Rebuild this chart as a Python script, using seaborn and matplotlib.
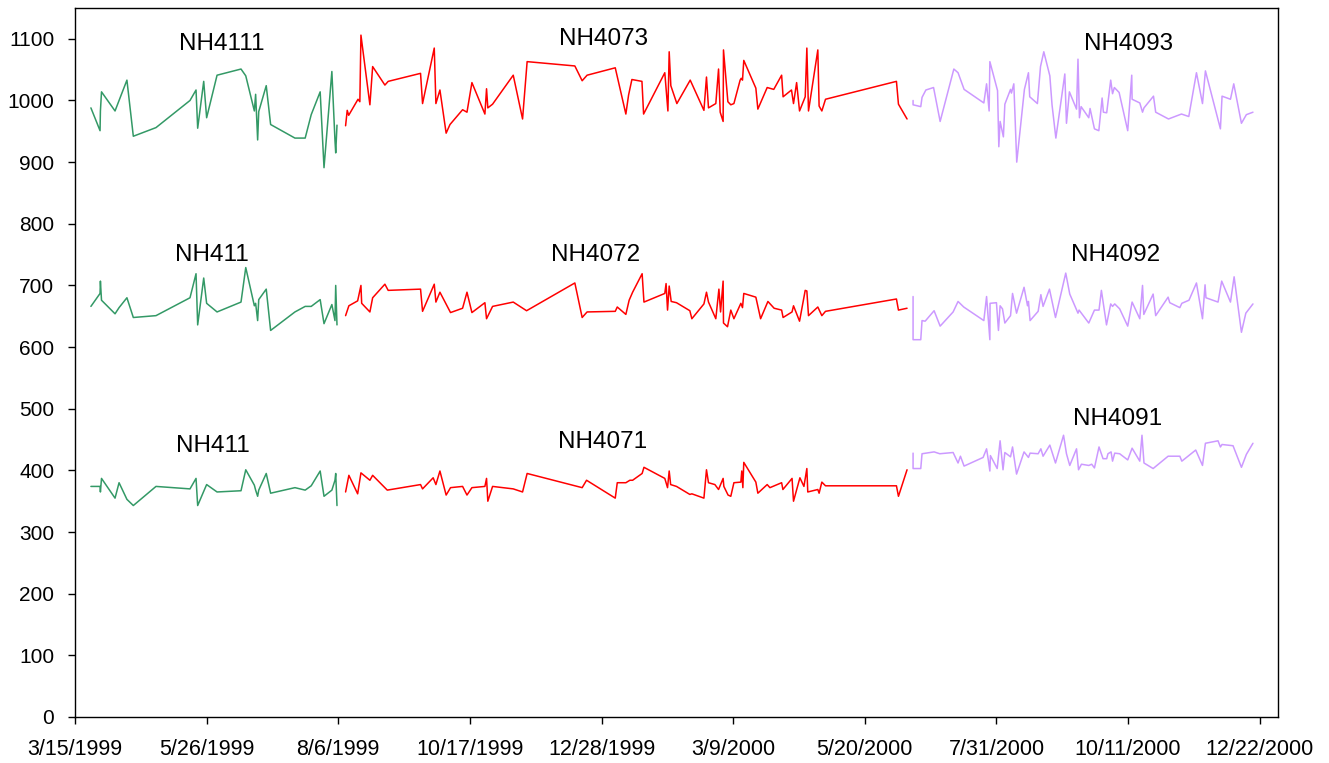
import matplotlib
matplotlib.use("Agg")
import matplotlib.pyplot as plt
import matplotlib.dates as mdates
from matplotlib.ticker import FuncFormatter
import seaborn as sns
import pandas as pd
import numpy as np

# ---------------- data (days since 1999-03-15, values) ----------------
START = "1999-03-15"

green_days = [8.7, 13.7, 13.9, 14.5, 21.9, 24.1, 28.4, 31.9, 44.3, 62.9, 66.2, 67.1,
              70.4, 72.0, 77.7, 90.8, 93.4, 98.1, 98.8, 99.9, 100.5, 104.6, 107.0,
              120.3, 125.9, 129.2, 134.1, 136.2, 140.5, 142.2, 142.6, 143.3]
nh4111 = [988, 951, 983, 1014, 983, 1000, 1033, 942, 956, 1000, 1017, 955, 1031, 972,
          1041, 1051, 1040, 983, 1010, 936, 982, 1024, 961, 939, 939, 977, 1014, 891,
          1047, 935, 915, 960]
nh411_mid = [666, 687, 707, 676, 654, 664, 680, 648, 651, 680, 719, 636, 712, 671, 657,
             673, 729, 667, 671, 643, 677, 694, 627, 657, 666, 666, 677, 638, 669, 643,
             700, 636]
nh411_low = [374, 374, 365, 387, 355, 380, 353, 343, 374, 370, 387, 343, 366, 377, 365,
             367, 401, 376, 368, 358, 368, 395, 363, 372, 368, 375, 399, 358, 368, 384,
             395, 343]

nh4073_days = [148.0, 148.9, 149.7, 154.8, 155.8, 156.4, 161.3, 162.8, 169.5, 171.3,
               189.0, 190.1, 196.5, 197.4, 199.6, 203.0, 205.1, 212.0, 214.4, 217.1,
               224.2, 225.1, 225.8, 228.4, 239.7, 244.8, 247.3, 273.4, 277.4, 280.1,
               295.5, 301.3, 302.8, 304.6, 310.1, 311.0, 322.6, 324.3, 325.0, 325.9,
               329.2, 336.5, 344.0, 345.4, 346.5, 350.5, 352.0, 352.9, 354.5, 354.7,
               357.1, 358.7, 360.4, 363.8, 364.4, 365.1, 365.8, 372.4, 373.5, 378.6,
               382.2, 386.5, 387.3, 391.9, 393.0, 394.7, 396.3, 399.4, 400.3, 401.2,
               406.3, 407.0, 408.5, 410.5, 449.3, 450.4, 455.1]
nh4073 = [959, 984, 976, 1002, 998, 1106, 993, 1055, 1025, 1031, 1044, 995, 1085, 995,
          1017, 947, 961, 985, 981, 1029, 978, 1019, 988, 994, 1041, 970, 1063, 1056,
          1032, 1041, 1053, 978, 1009, 1034, 1031, 978, 1045, 983, 1079, 1024, 995, 1033,
          984, 1038, 988, 995, 1051, 981, 966, 1082, 998, 993, 995, 1033, 1036, 1033,
          1065, 1020, 986, 1021, 1018, 1041, 1006, 1017, 995, 1029, 983, 1006, 1085, 983,
          1082, 991, 983, 1002, 1031, 994, 970]

nh4072_days = [148.0, 149.8, 154.6, 156.4, 156.8, 161.3, 162.8, 169.5, 171.3, 189.0,
               190.1, 196.5, 197.4, 199.6, 205.4, 212.0, 214.4, 217.1, 224.2, 225.1,
               228.4, 239.7, 247.0, 273.4, 277.4, 280.1, 295.5, 296.6, 301.3, 303.1,
               305.0, 310.2, 311.2, 322.6, 323.3, 324.1, 325.0, 326.1, 329.0, 336.3,
               337.4, 344.0, 345.4, 346.5, 350.5, 352.2, 353.1, 354.5, 354.7, 356.9,
               358.7, 360.4, 364.2, 365.1, 365.8, 372.4, 375.0, 379.0, 382.4, 386.5,
               387.3, 392.2, 393.0, 396.3, 399.4, 400.3, 401.2, 406.3, 408.5, 410.5,
               449.3, 450.4, 455.1]
nh4072 = [651, 667, 675, 700, 671, 657, 680, 702, 692, 694, 658, 702, 673, 689, 656, 663,
          689, 656, 672, 646, 666, 673, 659, 704, 648, 657, 658, 665, 653, 676, 689, 719,
          673, 687, 703, 660, 699, 674, 672, 659, 646, 670, 689, 673, 646, 694, 657, 707,
          639, 633, 660, 646, 671, 664, 687, 681, 646, 674, 663, 660, 648, 657, 667, 642,
          692, 691, 651, 665, 651, 658, 678, 660, 663]

nh4071_days = [148.0, 149.8, 154.6, 156.4, 161.3, 162.8, 170.8, 189.0, 190.1, 195.9,
               197.4, 199.6, 203.0, 205.4, 212.0, 214.4, 217.1, 224.2, 225.1, 225.8,
               228.4, 239.7, 244.8, 247.3, 277.4, 279.8, 295.5, 296.6, 301.3, 303.5,
               305.0, 310.2, 311.2, 322.6, 324.1, 325.0, 325.8, 329.0, 336.3, 337.4,
               344.0, 345.4, 346.5, 350.0, 352.0, 354.5, 354.9, 357.2, 358.7, 360.4,
               364.2, 364.7, 365.3, 365.8, 372.4, 373.5, 378.6, 380.1, 386.5, 387.2,
               392.2, 393.0, 396.5, 398.7, 400.3, 400.8, 406.3, 407.0, 408.5, 410.5,
               449.3, 450.4, 455.1]
nh4071 = [365, 392, 362, 396, 384, 392, 368, 377, 370, 388, 377, 399, 360, 372, 374, 360,
          372, 374, 387, 350, 374, 370, 365, 395, 372, 384, 355, 380, 380, 384, 384, 395,
          405, 387, 372, 399, 377, 374, 361, 362, 355, 401, 380, 377, 369, 387, 374, 360,
          358, 380, 381, 399, 372, 413, 381, 363, 377, 372, 380, 369, 387, 350, 388, 374,
          403, 365, 369, 363, 381, 375, 375, 358, 401]

nh4093_days = [458.4, 458.4, 462.6, 463.3, 465.4, 469.6, 473.2, 480.7, 483.0, 486.3,
               497.1, 498.6, 500.0, 500.4, 504.6, 505.3, 506.0, 507.8, 508.6, 511.7,
               512.2, 513.5, 515.1, 519.3, 521.5, 522.2, 526.4, 528.1, 529.9, 533.2,
               534.4, 536.5, 541.4, 542.3, 543.9, 547.8, 548.6, 549.4, 550.3, 554.5,
               555.2, 557.6, 560.0, 561.8, 562.5, 564.3, 566.5, 567.5, 568.5, 571.1,
               575.8, 578.0, 578.2, 582.4, 583.9, 584.7, 589.9, 591.1, 598.1, 605.2,
               609.2, 613.4, 616.7, 618.3, 626.5, 627.4, 632.0, 633.8, 638.0, 640.7, 644.3]
nh4093 = [1000, 993, 990, 1005, 1017, 1021, 966, 1051, 1045, 1018, 996, 1027, 983, 1063,
          1016, 925, 966, 941, 994, 1018, 1012, 1027, 900, 1018, 1045, 1006, 995, 1055,
          1079, 1040, 993, 939, 1043, 963, 1014, 986, 1067, 972, 990, 972, 987, 954, 951,
          1004, 981, 980, 1033, 1011, 1021, 1013, 951, 1041, 1002, 996, 981, 988, 1007,
          981, 970, 978, 974, 1045, 995, 1048, 954, 1007, 1002, 1027, 963, 977, 981]

nh4092_days = [458.4, 458.4, 462.6, 463.3, 465.0, 469.9, 473.2, 480.3, 483.0, 486.1,
               497.1, 498.6, 500.4, 500.5, 504.0, 505.1, 506.0, 507.3, 508.6, 511.7,
               512.8, 515.0, 519.1, 521.0, 521.5, 522.4, 526.8, 528.3, 529.5, 533.0,
               536.3, 541.9, 544.1, 548.6, 549.2, 554.5, 557.6, 560.1, 561.4, 564.2,
               566.5, 567.5, 568.7, 571.4, 575.8, 578.2, 582.4, 583.9, 584.6, 589.7,
               591.1, 597.9, 598.8, 604.3, 605.4, 609.3, 613.4, 616.7, 618.1, 618.6,
               625.2, 627.2, 632.0, 634.0, 638.0, 640.4, 644.3]
nh4092 = [682, 612, 612, 643, 642, 659, 634, 657, 674, 665, 643, 682, 612, 671, 672, 627,
          667, 662, 639, 651, 687, 655, 697, 667, 674, 643, 658, 685, 666, 694, 648, 720,
          686, 655, 660, 639, 660, 660, 692, 636, 670, 666, 670, 662, 634, 673, 646, 700,
          653, 686, 651, 681, 672, 664, 671, 676, 704, 646, 701, 680, 673, 707, 673, 714,
          624, 655, 670]

nh4091_days = [458.4, 458.4, 462.6, 463.3, 469.9, 473.0, 480.3, 483.0, 484.3, 486.3,
               496.7, 498.6, 499.6, 500.4, 500.7, 504.4, 506.0, 507.6, 508.6, 511.7,
               512.8, 515.0, 519.1, 521.5, 522.4, 526.8, 528.3, 529.5, 533.2, 536.3,
               540.7, 542.3, 544.1, 547.8, 548.9, 550.5, 554.5, 556.1, 557.6, 560.1,
               562.3, 564.3, 565.0, 566.7, 567.5, 568.7, 571.4, 575.8, 578.2, 582.4,
               583.6, 584.7, 589.7, 597.9, 604.3, 605.4, 613.0, 616.7, 618.3, 625.2,
               626.5, 627.4, 633.4, 638.0, 640.7, 644.3]
nh4091 = [428, 403, 403, 427, 430, 427, 429, 412, 423, 407, 421, 435, 416, 399, 424, 403,
          448, 401, 429, 422, 438, 394, 430, 421, 428, 427, 435, 423, 441, 412, 457, 427,
          408, 435, 401, 410, 408, 410, 404, 438, 419, 419, 427, 430, 415, 428, 427, 417,
          436, 415, 457, 412, 403, 423, 423, 415, 433, 408, 444, 448, 438, 442, 440, 405,
          426, 444]

label_names = ["NH4111", "NH4073", "NH4093", "NH411", "NH4072", "NH4092",
               "NH411", "NH4071", "NH4091"]
label_days = [80, 289, 576.5, 75, 285, 569, 75.5, 288.5, 570]
label_vals = [1091, 1099, 1091, 750, 750, 750, 440, 446, 483]

y_ticks = list(range(0, 1101, 100))
tick_step_days = 72
n_x_ticks = 10

# ---------------- styling ----------------
GREEN = "#339966"
RED = "#FF0000"
PURPLE = "#CC99FF"

sns.set_theme(style="white")
plt.rcParams["font.family"] = ["Liberation Sans", "DejaVu Sans"]

base = pd.Timestamp(START)


def to_dates(days):
    return base + pd.to_timedelta(np.asarray(days, dtype=float), unit="D")


fig = plt.figure(figsize=(13.29, 7.63), dpi=100)
ax = fig.add_axes([75 / 1329, 46 / 763, (1278 - 75) / 1329, (717 - 8) / 763])

series = [
    (green_days, nh4111, GREEN), (green_days, nh411_mid, GREEN), (green_days, nh411_low, GREEN),
    (nh4073_days, nh4073, RED), (nh4072_days, nh4072, RED), (nh4071_days, nh4071, RED),
    (nh4093_days, nh4093, PURPLE), (nh4092_days, nh4092, PURPLE), (nh4091_days, nh4091, PURPLE),
]
for days, vals, col in series:
    df = pd.DataFrame({"date": to_dates(days), "value": vals})
    sns.lineplot(data=df, x="date", y="value", color=col, linewidth=1.1,
                 estimator=None, sort=False, ax=ax)

for name, d, v in zip(label_names, label_days, label_vals):
    ax.text(to_dates([d])[0], v, name, ha="center", va="center",
            fontsize=17.5, color="black")

ax.set_xlim(base, base + pd.Timedelta(days=658))
ax.set_ylim(0, 1150)
ax.set_yticks(y_ticks)
ax.set_xticks([base + pd.Timedelta(days=tick_step_days * k) for k in range(n_x_ticks)])


def fmt_date(x, pos):
    d = mdates.num2date(x)
    return f"{d.month}/{d.day}/{d.year}"


ax.xaxis.set_major_formatter(FuncFormatter(fmt_date))
ax.set_xlabel("")
ax.set_ylabel("")
for s in ax.spines.values():
    s.set_color("black")
    s.set_linewidth(1.0)
    s.set_visible(True)
ax.tick_params(axis="both", direction="out", length=5, width=1, colors="black",
               bottom=True, left=True, top=False, right=False)
ax.tick_params(axis="x", labelsize=15.5, pad=11)
ax.tick_params(axis="y", labelsize=15, pad=10)
ax.grid(False)

fig.savefig("out.png", dpi=100, facecolor="white")
